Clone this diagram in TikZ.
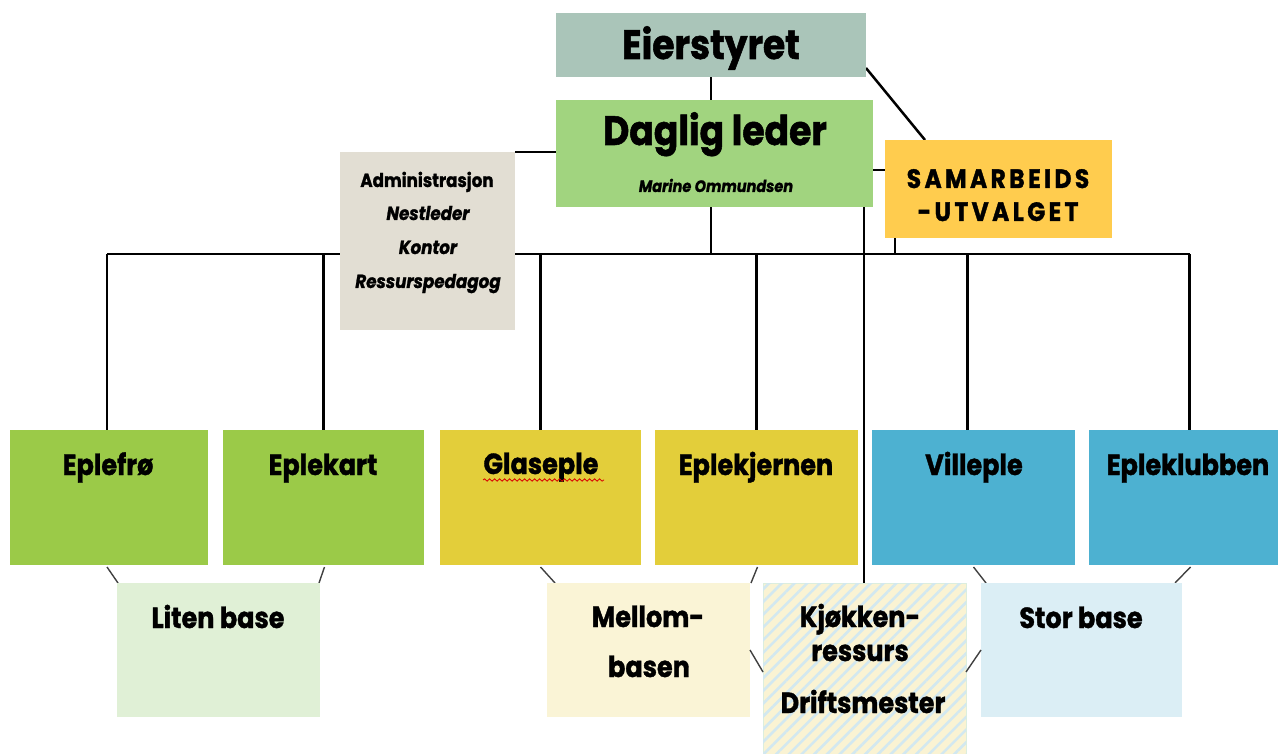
\documentclass[tikz,border=0pt]{standalone}
\usepackage{fontspec}
\setmainfont{Poppins}[FakeStretch=0.88, BoldFeatures={FakeBold=1.3}, BoldItalicFeatures={FakeBold=1.3}]
\usetikzlibrary{patterns.meta,decorations.pathmorphing,calc}
\pgfdeclarelayer{bg}
\pgfsetlayers{bg,main}
\definecolor{ceier}{HTML}{AAC5B9}
\definecolor{cdaglig}{HTML}{A1D47F}
\definecolor{csamar}{HTML}{FFCC4E}
\definecolor{cadmin}{HTML}{E2DED3}
\definecolor{cgreen}{HTML}{9BCA48}
\definecolor{cyellow}{HTML}{E3CE3A}
\definecolor{cblue}{HTML}{4DB1D1}
\definecolor{cliten}{HTML}{E0F0D6}
\definecolor{cmellom}{HTML}{FAF4D6}
\definecolor{cstor}{HTML}{DBEEF5}
\definecolor{ckjy}{HTML}{FAF3D3}
\definecolor{ckjb}{HTML}{D2E8F0}
\tikzset{
  box/.style={draw=none, inner sep=0pt, outer sep=0pt},
  lbl/.style={anchor=base, inner sep=0pt, font=\bfseries\fontsize{29}{32}\selectfont},
  big/.style={anchor=base, inner sep=0pt, font=\bfseries\fontsize{41}{44}\selectfont},
  adm/.style={anchor=base, inner sep=0pt, font=\bfseries\fontsize{19}{22}\selectfont},
  admi/.style={anchor=base, inner sep=0pt, font=\bfseries\itshape\fontsize{19}{22}\selectfont},
  conn/.style={line width=2.5pt, black},
  thin/.style={line width=1.4pt, black!75}
}
\begin{document}
\begin{tikzpicture}[x=1pt,y=-1pt]
\useasboundingbox (0,0) rectangle (1278,754);
% top boxes
\node[box, fill=ceier, minimum width=310pt, minimum height=64pt] (eier) at (711,45) {};
\node[box, fill=cdaglig, minimum width=317pt, minimum height=107pt] (daglig) at (714.5,153.5) {};
\node[box, fill=csamar, minimum width=227pt, minimum height=98pt] (samar) at (998.5,189) {};
\node[box, fill=cadmin, minimum width=175pt, minimum height=178pt] (admin) at (427.5,241) {};
% unit boxes
\node[box, fill=cgreen, minimum width=198pt, minimum height=135pt] (eplefro) at (109,497.5) {};
\node[box, fill=cgreen, minimum width=201pt, minimum height=135pt] (eplekart) at (323.5,497.5) {};
\node[box, fill=cyellow, minimum width=201pt, minimum height=135pt] (glaseple) at (540.5,497.5) {};
\node[box, fill=cyellow, minimum width=203pt, minimum height=135pt] (eplekj) at (756.5,497.5) {};
\node[box, fill=cblue, minimum width=203pt, minimum height=135pt] (villeple) at (973.5,497.5) {};
\node[box, fill=cblue, minimum width=189pt, minimum height=135pt] (epleklub) at (1183.5,497.5) {};
% bases
\node[box, fill=cliten, minimum width=203pt, minimum height=134pt] (liten) at (218.5,650) {};
\node[box, fill=cmellom, minimum width=203pt, minimum height=134pt] (mellom) at (648.5,650) {};
\node[box, fill=ckjy, draw=cliten!70!ckjb, line width=1pt, minimum width=203pt, minimum height=171pt,
  postaction={pattern={Lines[angle=45,distance=9pt,line width=2.6pt]}, pattern color=ckjb}] (kjokken) at (864.5,668.5) {};
\node[box, fill=cstor, minimum width=201pt, minimum height=134pt] (stor) at (1081.5,650) {};
% texts
\node[big] (teier) at (711,59) {Eierstyret};
\node[big] (tdaglig) at (715,145) {Daglig leder};
\node[anchor=base, inner sep=0pt, font=\bfseries\itshape\fontsize{16.5}{18}\selectfont] (tmarine) at (716,192) {Marine Ommundsen};
\node[anchor=base, inner sep=0pt, font=\bfseries\fontsize{26.5}{30}\selectfont] (tsam1) at (998,188) {\addfontfeature{LetterSpace=13}SAMARBEIDS};
\node[anchor=base, inner sep=0pt, font=\bfseries\fontsize{26.5}{30}\selectfont] (tsam2) at (998,221) {\addfontfeature{LetterSpace=13}-UTVALGET};
\node[adm] (tadm1) at (427,187) {Administrasjon};
\node[admi] (tadm2) at (428,220) {Nestleder};
\node[admi] (tadm3) at (428,254) {Kontor};
\node[admi] (tadm4) at (428,288) {Ressurspedagog};
\node[lbl] (t1) at (108,475) {Eplefrø};
\node[lbl] (t2) at (323,475) {Eplekart};
\node[lbl] (t3) at (541,474) {Glaseple};
\node[lbl] (t4) at (756,475) {Eplekjernen};
\node[lbl] (t5) at (974,475) {Villeple};
\node[lbl] (t6) at (1188,475) {Epleklubben};
\node[lbl] (t7) at (218,628) {Liten base};
\node[lbl] (t8) at (648,627) {Mellom-};
\node[lbl] (t9) at (649,677) {basen};
\node[lbl] (t10) at (860,627) {Kjøkken-};
\node[lbl] (t11) at (860,661) {ressurs};
\node[lbl] (t12) at (863,713) {Driftsmester};
\node[lbl] (t13) at (1081,628) {Stor base};
\draw[red!85!black, line width=0.8pt, decorate, decoration={snake, segment length=5pt, amplitude=1.2pt}] (483,480) -- (604,480);
% connectors
\coordinate (busL) at (107,254);
\coordinate (busR) at (1190,254);
\begin{pgfonlayer}{bg}
\draw[conn] (busL) -- (busR);
\draw[conn] (eier.south) -- (eier.south |- daglig.north);
\draw[conn] (eier.south |- daglig.south) -- (eier.south |- busL);
\draw[conn] ([yshift=9pt]eier.south east) -- ([xshift=40pt]samar.north west);
\draw[conn] ([yshift=-16.5pt]daglig.east) -- ([yshift=-16.5pt]daglig.east -| samar.west);
\draw[conn] (admin.north east) -- (admin.north east -| daglig.west);
\draw[conn] ([xshift=10pt]samar.south west) -- ([xshift=10pt]samar.south west |- busL);
\draw[conn] ([xshift=-9pt]daglig.south east) -- ([xshift=-9pt]daglig.south east |- kjokken.north);
\draw[conn] ([xshift=-2pt]eplefro.north) -- ([xshift=-2pt]eplefro.north |- busL);
\draw[conn] (eplekart.north) -- (eplekart.north |- busL);
\draw[conn] (glaseple.north) -- (glaseple.north |- busL);
\draw[conn] (eplekj.north) -- (eplekj.north |- busL);
\draw[conn] ([xshift=-6pt]villeple.north) -- ([xshift=-6pt]villeple.north |- busL);
\draw[conn] ([xshift=6pt]epleklub.north) -- ([xshift=6pt]epleklub.north |- busL);
\draw[thin] ([xshift=-2pt,yshift=-2pt]eplefro.south) -- ([xshift=1pt]liten.north west);
\draw[thin] ([xshift=1pt,yshift=-2pt]eplekart.south) -- ([xshift=-1pt]liten.north east);
\draw[thin] ([xshift=0pt,yshift=-2pt]glaseple.south) -- ([xshift=8pt]mellom.north west);
\draw[thin] ([xshift=1pt,yshift=-2pt]eplekj.south) -- ([xshift=1pt]mellom.north east);
\draw[thin] ([yshift=-2pt]villeple.south) -- ([xshift=5pt]stor.north west);
\draw[thin] ([xshift=7pt,yshift=-2pt]epleklub.south) -- ([xshift=-7pt]stor.north east);
\end{pgfonlayer}
\draw[thin] (mellom.east) -- ([yshift=-22pt]mellom.east -| kjokken.west);
\draw[thin] ([yshift=-22pt]stor.west -| kjokken.east) -- (stor.west);
\end{tikzpicture}
\end{document}
